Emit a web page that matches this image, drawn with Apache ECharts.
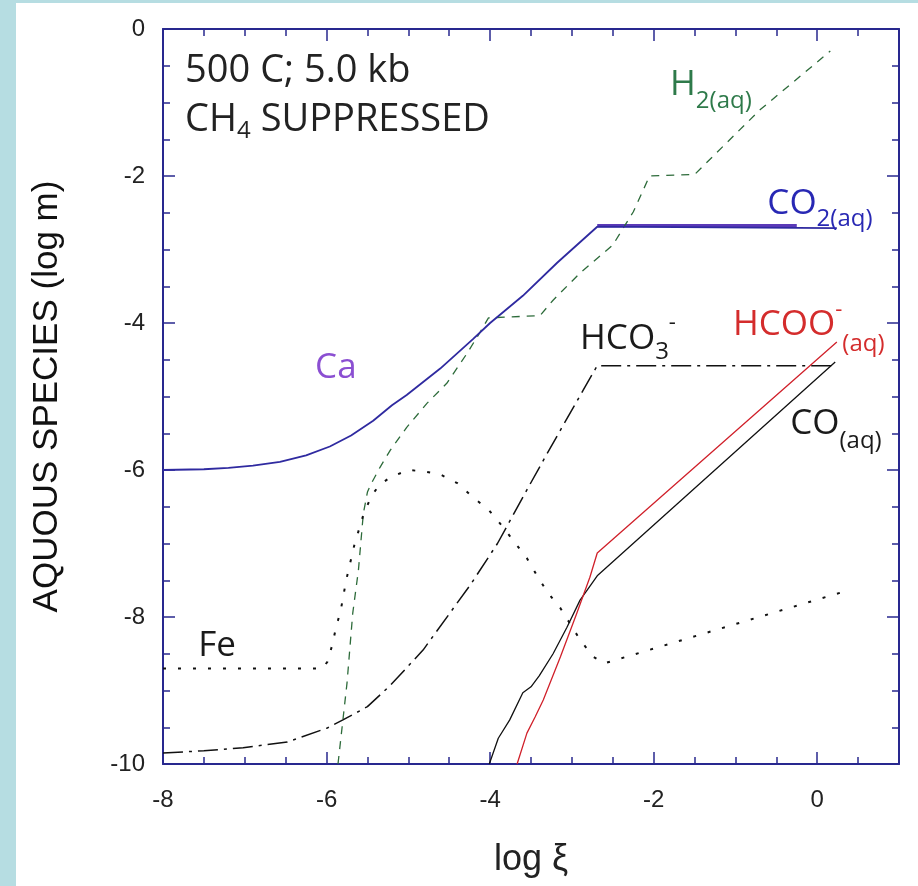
<!DOCTYPE html>
<html><head><meta charset="utf-8">
<script src="https://cdn.jsdelivr.net/npm/echarts@6/dist/echarts.min.js"></script>
<style>html,body{margin:0;padding:0;background:#fff}#c{width:918px;height:886px}</style>
</head><body><div id="c"></div>
<script>
// ---- data (log xi, log m) ----
const CO2 = [[-8,-6.0],[-7.5,-5.99],[-7.2,-5.97],[-6.9,-5.94],[-6.57,-5.89],[-6.25,-5.8],[-5.96,-5.68],[-5.7,-5.53],[-5.43,-5.33],[-5.2,-5.12],[-5.02,-4.98],[-4.61,-4.62],[-4.21,-4.22],[-4.0,-4.0],[-3.6,-3.63],[-3.18,-3.18],[-2.69,-2.69],[0.24,-2.71]];
const CA = [[-2.69,-2.675],[-0.25,-2.675]];
const H2 = [[-5.86,-10],[-5.75,-8.9],[-5.68,-7.95],[-5.61,-7.36],[-5.55,-6.59],[-5.5,-6.3],[-5.46,-6.2],[-5.35,-5.97],[-5.22,-5.73],[-5.02,-5.42],[-4.77,-5.09],[-4.53,-4.82],[-4.28,-4.41],[-4.12,-4.12],[-4.02,-3.93],[-3.39,-3.9],[-3.23,-3.69],[-2.9,-3.32],[-2.5,-2.94],[-2.25,-2.49],[-2.05,-2.0],[-1.5,-1.98],[-0.7,-1.1],[0.16,-0.3]];
const FE = [[-8,-8.7],[-6.05,-8.7],[-5.99,-8.61],[-5.93,-8.38],[-5.88,-8.12],[-5.83,-7.93],[-5.76,-7.5],[-5.66,-7.02],[-5.55,-6.61],[-5.45,-6.35],[-5.35,-6.2],[-5.22,-6.1],[-5.0,-6.0],[-4.8,-6.02],[-4.61,-6.06],[-4.4,-6.18],[-4.2,-6.38],[-4.02,-6.54],[-3.84,-6.78],[-3.69,-7.0],[-3.55,-7.2],[-3.43,-7.43],[-3.3,-7.66],[-3.14,-7.88],[-2.9,-8.31],[-2.74,-8.54],[-2.6,-8.63],[0.28,-7.67]];
const HCO3 = [[-8,-9.85],[-7.5,-9.82],[-7.02,-9.78],[-6.48,-9.7],[-5.99,-9.51],[-5.8,-9.4],[-5.5,-9.22],[-5.22,-8.93],[-4.82,-8.45],[-4.24,-7.56],[-3.91,-7.0],[-3.55,-6.27],[-3.3,-5.77],[-2.86,-4.91],[-2.69,-4.58],[0.24,-4.58]];
const CO = [[-4.01,-10],[-3.9,-9.65],[-3.76,-9.4],[-3.6,-9.03],[-3.5,-8.95],[-3.4,-8.8],[-3.23,-8.5],[-3.06,-8.14],[-2.9,-7.77],[-2.69,-7.44],[0.22,-4.53]];
const HCOO = [[-3.67,-10],[-3.55,-9.58],[-3.45,-9.36],[-3.35,-9.13],[-3.14,-8.54],[-2.94,-7.95],[-2.78,-7.46],[-2.69,-7.13],[0.24,-4.26]];

const X_MIN = -8, X_MAX = 1, Y_MIN = -10, Y_MAX = 0;
const X_TITLE = 'log ξ';
const Y_TITLE = 'AQUOUS SPECIES (log m)';

// annotations: text + anchor (left / vertical middle) in data units
const NOTES = [
  {at:[-7.73,-0.57], text:'{n|500 C; 5.0 kb}', color:'#222', big:true},
  {at:[-7.73,-1.24], text:'{n|CH}{s|4}{n| SUPPRESSED}', color:'#222', sub:22, big:true},
  {at:[-1.80,-0.76], text:'{n|H}{s|2(aq)}', color:'#2e7a4a', sub:32},
  {at:[-0.61,-2.38], text:'{n|CO}{s|2(aq)}', color:'#2828b4', sub:31},
  {at:[-1.03,-4.03], text:'{n|HCOO}{p|-}{s|(aq)}', color:'#d42c2c', sub:38, sup:30},
  {at:[-2.90,-4.22], text:'{n|HCO}{s|3}{p|-}', color:'#1a1a1a', sub:26, sup:32},
  {at:[-0.33,-5.37], text:'{n|CO}{s|(aq)}', color:'#1a1a1a', sub:35},
  {at:[-6.14,-4.61], text:'{n|Ca}', color:'#8b4fd2'},
  {at:[-7.57,-8.39], text:'{n|Fe}', color:'#1a1a1a'}
];

const NAVY = '#28288f';
const TFONT = '"Open Sans", "Noto Sans", sans-serif';
const AFONT = '"Liberation Sans", Arial, sans-serif';

const chart = echarts.init(document.getElementById('c'), null, {renderer:'canvas'});

function xAx(pos, interval, len, labels, line) {
  return {
    type:'value', min:X_MIN, max:X_MAX, interval:interval, position:pos,
    axisLine:{show:line, onZero:false, lineStyle:{color:NAVY, width:2}},
    axisTick:{show:true, inside:true, length:len, lineStyle:{color:NAVY, width:1.5}},
    axisLabel:{show:labels, showMaxLabel:false, margin:24, fontSize:24, fontFamily:AFONT, color:'#222'},
    splitLine:{show:false},
    name: labels ? X_TITLE : '', nameLocation:'middle', nameGap:78,
    nameTextStyle:{fontSize:36, fontFamily:AFONT, color:'#222'}
  };
}
function yAx(pos, labels) {
  return {
    type:'value', min:Y_MIN, max:Y_MAX, interval:2, position:pos,
    axisLine:{show:true, onZero:false, lineStyle:{color:NAVY, width:2}},
    axisTick:{show:true, inside:true, length:12, lineStyle:{color:NAVY, width:1.5}},
    minorTick:{show:true, splitNumber:4, length:7, lineStyle:{color:NAVY, width:1.5}},
    axisLabel:{show:labels, margin:18, fontSize:24, fontFamily:AFONT, color:'#222'},
    splitLine:{show:false},
    name: labels ? Y_TITLE : '', nameLocation:'middle', nameGap:98, nameRotate:90,
    nameTextStyle:{fontSize:35, fontFamily:AFONT, color:'#111'}
  };
}
function line(data, color, width, dash, z) {
  return {type:'line', data:data, xAxisIndex:0, yAxisIndex:0, symbol:'none', showSymbol:false,
    silent:true, z:z||2, clip:true,
    lineStyle:{color:color, width:width, type:dash||'solid', cap:'butt'}};
}

chart.setOption({
  animation:false,
  backgroundColor:'#ffffff',
  grid:{left:163, right:19, top:29, bottom:122, containLabel:false},
  xAxis:[xAx('bottom',2,12,true,true), xAx('bottom',0.5,7,false,false),
         xAx('top',2,12,false,true), xAx('top',0.5,7,false,false)],
  yAxis:[yAx('left',true), yAx('right',false)],
  series:[
    line(CA, '#5b3ab8', 3.2, 'solid', 1),
    line(CO2, '#2f2aa0', 1.8, 'solid', 3),
    line(H2, '#2d6b3a', 1.3, [8,7]),
    line(FE, '#111', 2, [3,12]),
    line(HCO3, '#111', 1.5, [20,6,3,6]),
    line(CO, '#111', 1.3),
    line(HCOO, '#d0202a', 1.3)
  ]
});

const g = [
  {type:'rect', left:0, top:0, shape:{width:16, height:886}, style:{fill:'#b6dde2'}, silent:true},
  {type:'rect', left:0, top:0, shape:{width:918, height:3}, style:{fill:'#b6dde2'}, silent:true}
];
NOTES.forEach(function(n){
  const p = chart.convertToPixel({xAxisIndex:0, yAxisIndex:0}, n.at);
  const fs = n.big ? 38 : 35;
  g.push({type:'text', x:p[0], y:p[1], silent:true, z:10, style:{
    text:n.text, textAlign:'left', textVerticalAlign:'middle', fill:n.color,
    rich:{
      n:{fontSize:fs, fontFamily:TFONT, fill:n.color},
      s:{fontSize:24, fontFamily:TFONT, fill:n.color, padding:[n.sub||0,0,0,0]},
      p:{fontSize:22, fontFamily:TFONT, fill:n.color, padding:[0,0,n.sup||0,0]}
    }
  }});
});
chart.setOption({graphic:g});
</script></body></html>
